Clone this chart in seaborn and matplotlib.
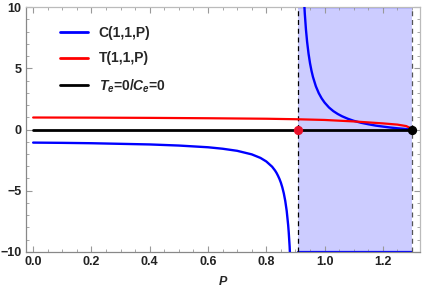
import numpy as np
import pandas as pd
import seaborn as sns
import matplotlib.pyplot as plt
from matplotlib.ticker import MultipleLocator

# --- values ---
c_left_p = [0.0, 0.1, 0.2, 0.3, 0.4, 0.5, 0.6, 0.65, 0.7, 0.75, 0.78, 0.8,
            0.82, 0.83, 0.835, 0.84, 0.845, 0.85, 0.855, 0.86, 0.865, 0.87,
            0.875, 0.877, 0.88, 0.883]
c_left_v = [-1.07, -1.09, -1.12, -1.17, -1.22, -1.31, -1.45, -1.57, -1.74, -2.03,
            -2.32, -2.61, -3.04, -3.35, -3.54, -3.77, -4.03, -4.34, -4.73, -5.21,
            -5.83, -6.65, -7.81, -8.41, -9.54, -11.07]
c_right_p = [0.929, 0.932, 0.936, 0.94, 0.945, 0.95, 0.955, 0.96, 0.97, 0.98,
             0.99, 1.0, 1.015, 1.03, 1.045, 1.06, 1.08, 1.1, 1.125, 1.15, 1.175,
             1.2, 1.225, 1.25, 1.275, 1.3]
c_right_v = [10.76, 9.49, 8.17, 7.16, 6.18, 5.41, 4.80, 4.30, 3.53, 2.97,
             2.54, 2.20, 1.80, 1.50, 1.27, 1.08, 0.875, 0.71, 0.55, 0.43, 0.32,
             0.24, 0.163, 0.10, 0.047, 0.0]
t_p = [0.0, 0.2, 0.4, 0.6, 0.8, 0.9, 1.0, 1.1, 1.2, 1.25, 1.28, 1.3]
t_v = [0.98, 0.97, 0.95, 0.92, 0.88, 0.84, 0.78, 0.66, 0.50, 0.40, 0.28, 0.05]
zero_p = [0.0, 1.3]
zero_v = [0.0, 0.0]
region_lo, region_hi = 0.909, 1.30
y_lo, y_hi = -10, 10
dot_red = (0.909, 0.0)
dot_black = (1.30, 0.0)

sns.set_style("ticks")
plt.rcParams['font.family'] = ['Liberation Sans', 'DejaVu Sans']
plt.rcParams['mathtext.fontset'] = 'custom'
plt.rcParams['mathtext.it'] = 'Liberation Sans:italic:bold'
plt.rcParams['mathtext.rm'] = 'Liberation Sans:bold'

fig = plt.figure(figsize=(4.26, 2.94), dpi=100)
ax = fig.add_axes([0.060, 0.143, 0.925, 0.833])

# shaded region
ax.fill_between([region_lo, region_hi], y_lo, y_hi, color="#ccccff", lw=0, zorder=0)
sns.lineplot(x=[region_lo, region_hi], y=[y_hi, y_hi], color="blue", lw=1.6, ax=ax, zorder=1)
sns.lineplot(x=[region_lo, region_hi], y=[y_lo, y_lo], color="blue", lw=1.6, ax=ax, zorder=1)
ax.axvline(region_lo, color="black", ls=(0, (4, 3)), lw=0.9, zorder=2)
ax.axvline(region_hi, color="#555555", ls=(0, (4, 3)), lw=0.9, zorder=2)

left = pd.DataFrame({"P": c_left_p, "v": c_left_v})
right = pd.DataFrame({"P": c_right_p, "v": c_right_v})
tdf = pd.DataFrame({"P": t_p, "v": t_v})

sns.lineplot(data=left, x="P", y="v", color="blue", lw=1.7, ax=ax, label="C(1,1,P)", zorder=3)
sns.lineplot(data=right, x="P", y="v", color="blue", lw=1.7, ax=ax, zorder=3)
sns.lineplot(data=tdf, x="P", y="v", color="red", lw=1.6, ax=ax, label="T(1,1,P)", zorder=4)
sns.lineplot(x=zero_p, y=zero_v, color="black", lw=2.0, ax=ax,
             label=r"$T_e$=0/$C_e$=0", zorder=3)
ax.scatter(*dot_red, color="#e8102a", s=32, zorder=5)
ax.scatter(*dot_black, color="black", s=32, zorder=5)

ax.set_xlim(-0.026, 1.326)
ax.set_ylim(y_lo, y_hi)
ax.xaxis.set_minor_locator(MultipleLocator(0.05))
ax.yaxis.set_minor_locator(MultipleLocator(1))
ax.set_xticks([0.0, 0.2, 0.4, 0.6, 0.8, 1.0, 1.2])
ax.set_xticklabels(["0.0", "0.2", "0.4", "0.6", "0.8", "1.0", "1.2"])
ax.set_yticks([-10, -5, 0, 5, 10])
ax.set_yticklabels(["\u221210", "\u22125", "0", "5", "10"])
ax.tick_params(which="both", direction="in", top=True, right=True, color="#999999",
               labelsize=9, pad=3)
ax.tick_params(which="major", length=4, width=0.8)
ax.tick_params(which="minor", length=2, width=0.6)
for lab in ax.get_xticklabels() + ax.get_yticklabels():
    lab.set_fontweight("bold")
    lab.set_color("#222222")
for side, sp in ax.spines.items():
    sp.set_color("#888888" if side in ("left", "bottom") else "#bbbbbb")
    sp.set_linewidth(0.9)

ax.set_xlabel("P", fontstyle="italic", fontweight="bold", fontsize=9, labelpad=6)
ax.set_ylabel("")

leg = ax.legend(loc="upper left", frameon=False, bbox_to_anchor=(0.055, 0.975),
                handlelength=2.0, handletextpad=0.8, labelspacing=0.85,
                prop={"size": 10, "weight": "bold"})
for line in leg.get_lines():
    line.set_linewidth(2.0)

fig.savefig("out.png", dpi=100)
